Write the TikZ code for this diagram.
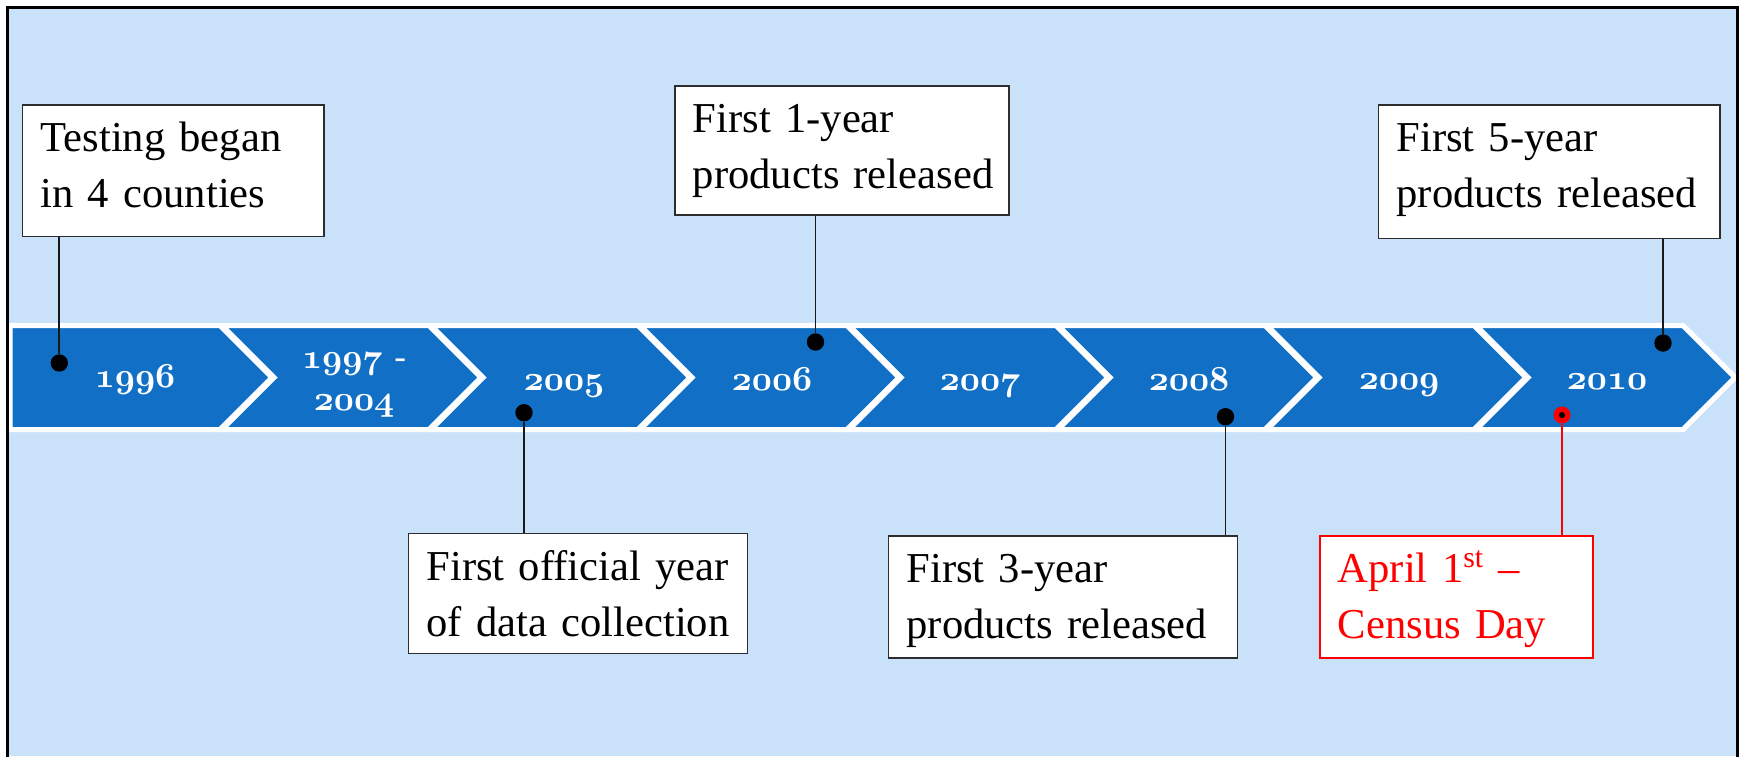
\documentclass[tikz,border=0pt]{standalone}
\usepackage{fix-cm}
\usepackage{fontspec}
\setmainfont{Liberation Serif}
\definecolor{bgblue}{RGB}{201,226,249}
\definecolor{chev}{RGB}{17,112,198}
\definecolor{boxline}{RGB}{45,45,45}
\newcommand\yrnum[1]{$\mathnormal{#1}$}
\tikzset{
  chevron/.style={fill=chev, draw=white, line width=2.5pt, line join=miter},
  yearlbl/.style={text=white, font=\fontsize{17.5}{21}\selectfont\boldmath, inner sep=0pt, anchor=base},
  eventbox/.style={draw=boxline, fill=white, line width=0.85pt, inner sep=0pt, anchor=north west},
  redbox/.style={eventbox, draw=red, line width=1pt},
  eventtext/.style={font=\fontsize{21.3}{28}\selectfont, align=left, text width=165pt, inner sep=0pt, anchor=north west},
  dotmark/.style={circle, fill=black, inner sep=0pt, minimum size=8.7pt},
  reddot/.style={circle, fill=black, draw=red, line width=2.7pt, inner sep=0pt, minimum size=5.8pt},
  conn/.style={draw=black!90, line width=0.85pt},
  redconn/.style={draw=red, line width=0.8pt},
  frameline/.style={draw=black, line width=1.35pt}
}
\begin{document}
\begin{tikzpicture}[x=0.5pt,y=-0.5pt]
\useasboundingbox (0,0) rectangle (1741,756);
\fill[bgblue] (7.3,7.3) rectangle (1737.3,756);

% chevrons
\path[chevron] (10,325.5) -- (220,325.5) -- (272,377.5) -- (220,429.5) -- (10,429.5) -- cycle;
\foreach \i in {1,...,7}{
  \pgfmathsetmacro\L{222+209*(\i-1)}
  \pgfmathsetmacro\R{\L+207}
  \path[chevron] (\L,325.5) -- (\R,325.5) -- (\R+52,377.5) -- (\R,429.5) -- (\L,429.5) -- (\L+52,377.5) -- cycle;
}

% year labels
\node[yearlbl] (y1) at (135,387) {\yrnum{1996}};
\node[yearlbl, anchor=north, align=center, text width=60pt] (y2) at (354,338.6) {\strut\yrnum{1997} -\\\yrnum{2004}};
\node[yearlbl] (y3) at (564,390) {\yrnum{2005}};
\node[yearlbl] (y4) at (772,390) {\yrnum{2006}};
\node[yearlbl] (y5) at (980,390) {\yrnum{2007}};
\node[yearlbl] (y6) at (1189,390) {\yrnum{2008}};
\node[yearlbl] (y7) at (1399,389) {\yrnum{2009}};
\node[yearlbl] (y8) at (1607,389) {\yrnum{2010}};

% event boxes
\node[eventbox, minimum width=150.65pt, minimum height=65.85pt] (b1) at (21.7,104) {};
\node[eventtext] (t1) at ([shift={(18.5,8.3)}]b1.north west) {\strut Testing began\\in 4 counties};

\node[eventbox, minimum width=167pt, minimum height=64.65pt] (b2) at (674,85) {};
\node[eventtext] (t2) at ([shift={(18.5,8.3)}]b2.north west) {\strut First 1-year\\products released};

\node[eventbox, minimum width=169.5pt, minimum height=60pt] (b3) at (407.7,532.7) {};
\node[eventtext] (t3) at ([shift={(18.5,8.3)}]b3.north west) {\strut First official year\\of data collection};

\node[eventbox, minimum width=174.5pt, minimum height=61.15pt] (b4) at (887.7,535) {};
\node[eventtext] (t4) at ([shift={(18.5,8.3)}]b4.north west) {\strut First 3-year\\products released};

\node[eventbox, minimum width=170.8pt, minimum height=66.85pt] (b5) at (1377.7,104) {};
\node[eventtext] (t5) at ([shift={(18.5,8.3)}]b5.north west) {\strut First 5-year\\products released};

\node[redbox, minimum width=136.5pt, minimum height=61pt] (b6) at (1319,535) {};
\node[eventtext, text=red] (t6) at ([shift={(18.5,8.3)}]b6.north west) {\strut April 1\textsuperscript{st} –\\Census Day};

% dots
\node[dotmark] (d1) at (59.3,363) {};
\node[dotmark] (d2) at (524,412.7) {};
\node[dotmark] (d3) at (815.5,342) {};
\node[dotmark] (d4) at (1225.5,416.7) {};
\node[dotmark] (d5) at (1663,343) {};
\node[reddot] (d6) at (1562,415) {};

% connectors
\draw[conn] (d1.north) -- (d1.north |- b1.south);
\draw[conn] (d2.south) -- (d2.south |- b3.north);
\draw[conn] (d3.north) -- (d3.north |- b2.south);
\draw[conn] (d4.south) -- (d4.south |- b4.north);
\draw[conn] (d5.north) -- (d5.north |- b5.south);
\draw[redconn] (d6.south) -- (d6.south |- b6.north);

% frame
\draw[frameline] (7.3,762) -- (7.3,7.3) -- (1737.3,7.3) -- (1737.3,762);
\end{tikzpicture}
\end{document}
